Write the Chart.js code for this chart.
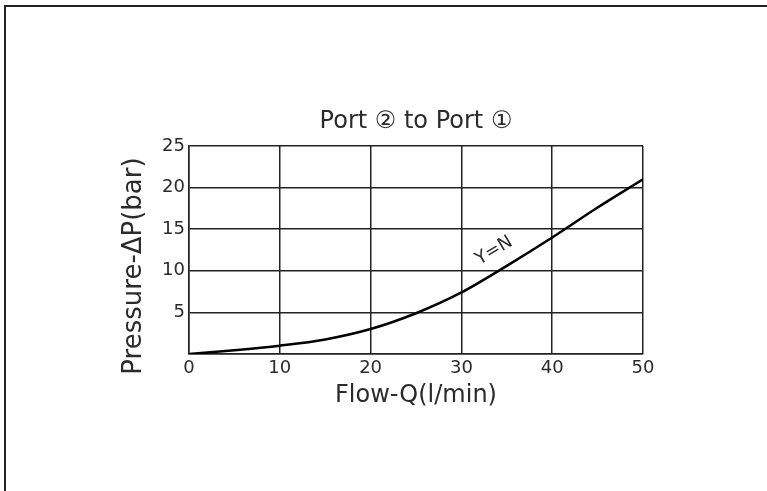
<!DOCTYPE html>
<html>
<head>
<meta charset="utf-8">
<script src="https://cdn.jsdelivr.net/npm/chart.js@4/dist/chart.umd.min.js"></script>
<style>
  html, body { margin: 0; padding: 0; background: #fff; }
  #wrap { position: relative; width: 767px; height: 491px; overflow: hidden; }
  #frame { position: absolute; left: 4px; top: 5px; right: -10px; bottom: -10px;
           border-top: 2px solid #222; border-left: 2px solid #222; pointer-events: none; }
  canvas { position: absolute; left: 0; top: 0; }
</style>
</head>
<body>
<div id="wrap">
  <canvas id="c" width="767" height="491"></canvas>
  <div id="frame"></div>
</div>
<script>
const flowQ = [0, 5, 10, 15, 20, 25, 30, 35, 40, 45, 50];
const pressure = [0, 0.45, 1.0, 1.75, 3.0, 4.9, 7.4, 10.6, 14.0, 17.6, 21.0];
const xTicks = [0, 10, 20, 30, 40, 50];
const yTicks = [5, 10, 15, 20, 25];
const chartTitle = 'Port \u2461 to Port \u2460';
const xTitle = 'Flow-Q(l/min)';
const yTitle = 'Pressure-\u0394P(bar)';
const curveLabel = 'Y=N';
const curveLabelPos = { x: 33.6, y: 12.4 };

const FONT = '"DejaVu Sans", sans-serif';
const TXT = '#2b2b2b';

const overlay = {
  id: 'overlay',
  afterDraw(chart) {
    const { ctx, chartArea, scales } = chart;
    ctx.save();
    ctx.fillStyle = TXT;
    ctx.font = '24px ' + FONT;
    ctx.textAlign = 'center';
    ctx.textBaseline = 'middle';
    ctx.fillText(chartTitle, (chartArea.left + chartArea.right) / 2, chartArea.top - 24);

    // y-axis title, centred a little below the plot's middle as in the reference
    ctx.save();
    ctx.translate(chartArea.left - 55, (chartArea.top + chartArea.bottom) / 2 + 16);
    ctx.rotate(-Math.PI / 2);
    ctx.font = '26px ' + FONT;
    ctx.fillText(yTitle, 0, 0);
    ctx.restore();

    const px = scales.x.getPixelForValue(curveLabelPos.x);
    const py = scales.y.getPixelForValue(curveLabelPos.y);
    ctx.translate(px, py);
    ctx.rotate(-31 * Math.PI / 180);
    ctx.font = '18px ' + FONT;
    ctx.fillText(curveLabel, 0, 0);
    ctx.restore();
  }
};

new Chart(document.getElementById('c'), {
  type: 'line',
  data: {
    datasets: [{
      data: flowQ.map((q, i) => ({ x: q, y: pressure[i] })),
      borderColor: '#000',
      borderWidth: 2.5,
      pointRadius: 0,
      fill: false,
      cubicInterpolationMode: 'monotone'
    }]
  },
  options: {
    responsive: false,
    animation: false,
    devicePixelRatio: 1,
    layout: { padding: { left: 115, right: 124, top: 146, bottom: 77 } },
    plugins: { legend: { display: false }, tooltip: { enabled: false }, title: { display: false } },
    scales: {
      x: {
        type: 'linear', min: 0, max: 50,
        afterFit(s) { s.height = 60; },
        afterBuildTicks(s) { s.ticks = xTicks.map(v => ({ value: v })); },
        grid: { color: '#222', lineWidth: 1.5, drawTicks: false },
        border: { color: '#222', width: 1.5 },
        ticks: { color: TXT, font: { family: FONT, size: 18 }, padding: 4, maxRotation: 0 },
        title: { display: true, text: xTitle, color: TXT, font: { family: FONT, size: 24 }, padding: 4 }
      },
      y: {
        type: 'linear', min: 0, max: 25,
        afterFit(s) { s.width = 74; },
        afterBuildTicks(s) { s.ticks = [0].concat(yTicks).map(v => ({ value: v })); },
        grid: { color: '#222', lineWidth: 1.5, drawTicks: false },
        border: { color: '#222', width: 1.5 },
        ticks: { color: TXT, font: { family: FONT, size: 18 }, padding: 4,
                 callback: v => (yTicks.includes(v) ? String(v) : '') },
        title: { display: false }
      }
    }
  },
  plugins: [overlay]
});
</script>
</body>
</html>
